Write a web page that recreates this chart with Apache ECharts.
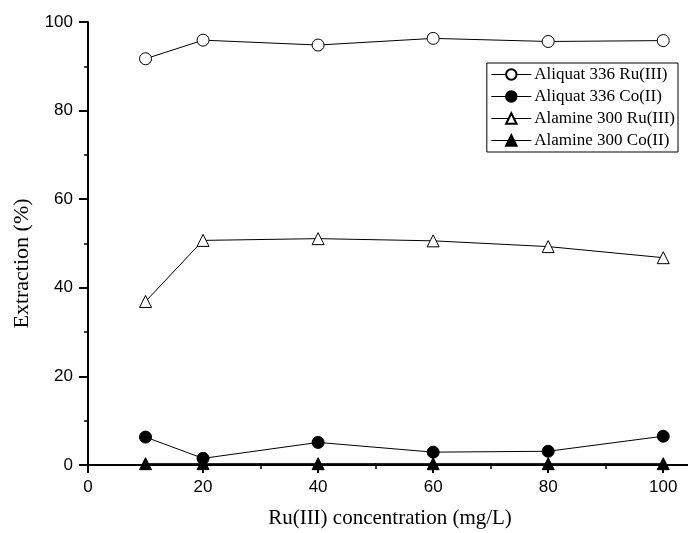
<!DOCTYPE html>
<html lang="en">
<head>
    <meta charset="UTF-8">
    <script type="text/javascript" src="https://cdn.jsdelivr.net/npm/echarts@6/dist/echarts.min.js"></script>
    <title>Extraction</title>
    <style>
        html, body { margin: 0; padding: 0; background: #fff; }
    </style>
</head>
<body>
    <div id="main" style="width:688px; height:533px;"></div>
<script>
// data
var concentration = [10, 20, 40, 60, 80, 100];
var aliquatRu = [91.7, 95.9, 94.8, 96.3, 95.6, 95.8];
var aliquatCo = [6.3, 1.5, 5.1, 2.9, 3.1, 6.5];
var alamineRu = [36.9, 50.7, 51.1, 50.6, 49.3, 46.8];
var alamineCo = [0.3, 0.3, 0.3, 0.3, 0.3, 0.3];
var seriesNames = ['Aliquat 336 Ru(III)', 'Aliquat 336 Co(II)', 'Alamine 300 Ru(III)', 'Alamine 300 Co(II)'];

function pairs(ys) {
    var out = [];
    for (var i = 0; i < concentration.length; i++) {
        out.push([concentration[i], ys[i]]);
    }
    return out;
}

function makeSeries(name, ys, symbol, filled) {
    return {
        name: name,
        type: 'line',
        data: pairs(ys),
        symbol: symbol,
        symbolSize: 12,
        showAllSymbol: true,
        lineStyle: { color: '#000', width: 1 },
        itemStyle: { color: filled ? '#000' : '#fff', borderColor: '#000', borderWidth: 1 },
        z: 5
    };
}

var serif = '"Liberation Serif", "Times New Roman", serif';
var sans = '"Liberation Sans", Arial, sans-serif';

var option = {
    animation: false,
    backgroundColor: '#fff',
    grid: { left: 88, right: -4, top: 22, bottom: 68, outerBoundsMode: 'none' },
    legend: {
        data: seriesNames,
        orient: 'vertical',
        right: 10,
        top: 63,
        itemWidth: 40,
        itemHeight: 13,
        itemGap: 5,
        padding: [3, 3, 3, 4],
        borderColor: '#000',
        borderWidth: 1,
        backgroundColor: '#fff',
        lineStyle: { width: 1 },
        textStyle: { fontFamily: serif, fontSize: 17, color: '#000', padding: [0, 0, 0, -2] }
    },
    xAxis: [{
        type: 'value',
        min: 0,
        max: 105,
        interval: 20,
        name: 'Ru(III) concentration (mg/L)',
        nameLocation: 'middle',
        nameGap: 43,
        nameTextStyle: { fontFamily: serif, fontSize: 21, color: '#000' },
        axisLine: { show: true, onZero: false, lineStyle: { color: '#000', width: 2 } },
        axisTick: { show: true, inside: false, length: 8, lineStyle: { color: '#000', width: 2 } },
        minorTick: { show: true, splitNumber: 2, length: 4, lineStyle: { color: '#000', width: 1.5 } },
        axisLabel: {
            color: '#000', fontFamily: sans, fontSize: 17, margin: 14,
            formatter: function (v) { return v % 20 === 0 ? v : ''; }
        },
        splitLine: { show: false }
    }, {
        type: 'value',
        position: 'top',
        min: 0,
        max: 105,
        interval: 10,
        axisLine: { show: true, lineStyle: { color: '#000', width: 1.5 } },
        axisTick: { show: true, inside: false, length: 2, lineStyle: { color: '#000', width: 1 } },
        axisLabel: { show: false },
        splitLine: { show: false }
    }],
    yAxis: {
        type: 'value',
        min: 0,
        max: 100,
        interval: 20,
        name: 'Extraction (%)',
        nameLocation: 'middle',
        nameGap: 55,
        nameTextStyle: { fontFamily: serif, fontSize: 22, color: '#000', padding: [0, 40, 0, 0] },
        axisLine: { show: true, lineStyle: { color: '#000', width: 2 } },
        axisTick: { show: true, inside: false, length: 9, lineStyle: { color: '#000', width: 2 } },
        minorTick: { show: true, splitNumber: 2, length: 4, lineStyle: { color: '#000', width: 1.5 } },
        axisLabel: { color: '#000', fontFamily: sans, fontSize: 17, margin: 15 },
        splitLine: { show: false }
    },
    series: [
        makeSeries(seriesNames[0], aliquatRu, 'circle', false),
        makeSeries(seriesNames[1], aliquatCo, 'circle', true),
        makeSeries(seriesNames[2], alamineRu, 'triangle', false),
        makeSeries(seriesNames[3], alamineCo, 'triangle', true)
    ]
};

var myChart = echarts.init(document.getElementById('main'));
myChart.setOption(option);
</script>
</body>
</html>
